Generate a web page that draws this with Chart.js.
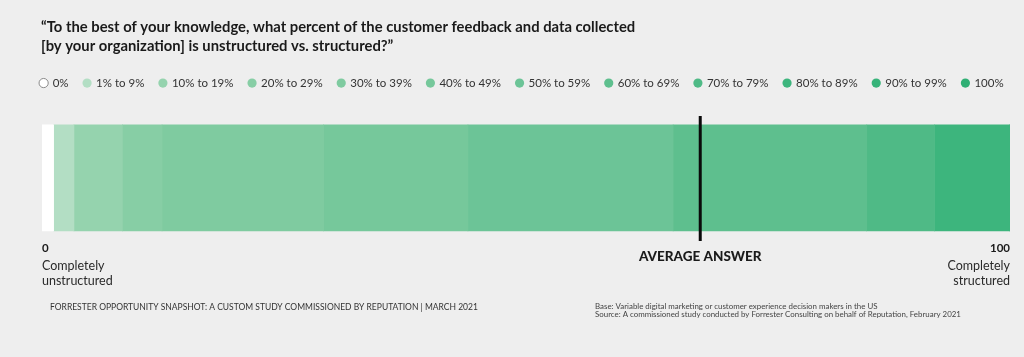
<!DOCTYPE html>
<html>
<head>
<meta charset="utf-8">
<script src="https://cdn.jsdelivr.net/npm/chart.js@4.4.1/dist/chart.umd.min.js"></script>
<style>
  html, body { margin: 0; padding: 0; background: #eeeeee; }
  #wrap { width: 1024px; height: 357px; position: relative; }
</style>
</head>
<body>
<div id="wrap"><canvas id="c" width="1024" height="357"></canvas></div>
<script>
const titleLines = [
  '\u201CTo the best of your knowledge, what percent of the customer feedback and data collected',
  '[by your organization] is unstructured vs. structured?\u201D'
];
const categories = ['0%', '1% to 9%', '10% to 19%', '20% to 29%', '30% to 39%', '40% to 49%',
  '50% to 59%', '60% to 69%', '70% to 79%', '80% to 89%', '90% to 99%', '100%'];
const shares = [1.2, 2.1, 5.0, 4.1, 16.7, 14.9, 21.2, 20.0, 7.0, 7.8, 0, 0];
const colors = ['#ffffff', '#b3dec4', '#95d3ae', '#87cea5', '#7fcba0', '#76c89b',
  '#6cc497', '#5ebf8e', '#4fba86', '#3db57d', '#37b379', '#2faf74'];
const averageAnswer = 68;
const axisMin = 0;
const axisMax = 100;
const leftLabel = ['0', 'Completely', 'unstructured'];
const rightLabel = ['100', 'Completely', 'structured'];
const averageLabel = 'AVERAGE ANSWER';
const footLeft = 'FORRESTER OPPORTUNITY SNAPSHOT: A CUSTOM STUDY COMMISSIONED BY REPUTATION | MARCH 2021';
const footRight = [
  'Base: Variable digital marketing or customer experience decision makers in the US',
  'Source: A commissioned study conducted by Forrester Consulting on behalf of Reputation, February 2021'
];

const FONT = 'Lato, "Open Sans", sans-serif';

const bg = {
  id: 'bg',
  beforeDraw(chart) {
    const ctx = chart.ctx;
    ctx.save();
    ctx.fillStyle = '#eeeeee';
    ctx.fillRect(0, 0, chart.width, chart.height);
    ctx.restore();
  }
};

const extras = {
  id: 'extras',
  afterDraw(chart) {
    const ctx = chart.ctx;
    const xs = chart.scales.x;
    const x0 = xs.getPixelForValue(axisMin);
    const x1 = xs.getPixelForValue(axisMax);
    const xa = xs.getPixelForValue(averageAnswer);
    ctx.save();
    ctx.textBaseline = 'middle';

    // title
    ctx.font = 'bold 14.8px ' + FONT;
    ctx.fillStyle = '#1a1a1a';
    ctx.textAlign = 'left';
    ctx.fillText(titleLines[0], 41, 27);
    ctx.fillText(titleLines[1], 41, 46);

    // average line
    ctx.strokeStyle = '#0a0a0a';
    ctx.lineWidth = 3;
    ctx.beginPath();
    ctx.moveTo(xa, 116);
    ctx.lineTo(xa, 241);
    ctx.stroke();

    // end labels
    ctx.fillStyle = '#1a1a1a';
    ctx.font = 'bold 11.5px ' + FONT;
    ctx.textAlign = 'left';
    ctx.fillText(leftLabel[0], x0, 248);
    ctx.textAlign = 'right';
    ctx.fillText(rightLabel[0], x1, 248);
    ctx.font = '12.5px ' + FONT;
    ctx.fillStyle = '#2a2a2a';
    ctx.textAlign = 'left';
    ctx.fillText(leftLabel[1], x0, 266);
    ctx.fillText(leftLabel[2], x0, 281);
    ctx.textAlign = 'right';
    ctx.fillText(rightLabel[1], x1, 266);
    ctx.fillText(rightLabel[2], x1, 281);

    // average label
    ctx.font = '900 13.5px ' + FONT;
    ctx.fillStyle = '#1a1a1a';
    ctx.textAlign = 'center';
    ctx.fillText(averageLabel, xa, 256.5);

    // footers
    ctx.font = '8.5px ' + FONT;
    ctx.fillStyle = '#333333';
    ctx.textAlign = 'left';
    ctx.fillText(footLeft, 50, 307);
    ctx.font = '7.9px ' + FONT;
    ctx.fillStyle = '#444444';
    ctx.fillText(footRight[0], 595, 306.5);
    ctx.fillText(footRight[1], 595, 314.5);
    ctx.restore();
  }
};

const datasets = categories.map((cat, i) => ({
  label: cat,
  data: [shares[i]],
  backgroundColor: colors[i],
  borderWidth: 0,
  barThickness: 106
}));

const hiddenAxis = (pos, w) => ({
  display: true,
  position: pos,
  stacked: true,
  grid: { display: false },
  border: { display: false },
  ticks: { display: false },
  afterFit(scale) { scale.width = w; }
});

new Chart(document.getElementById('c'), {
  type: 'bar',
  data: { labels: [''], datasets },
  plugins: [bg, extras],
  options: {
    responsive: false,
    animation: false,
    indexAxis: 'y',
    layout: { padding: { left: 20, right: 0, top: 62, bottom: 100 } },
    scales: {
      x: { stacked: true, min: axisMin, max: axisMax, display: false },
      y: hiddenAxis('left', 22),
      yRight: Object.assign(hiddenAxis('right', 14), { type: 'linear', min: 0, max: 1, stacked: false })
    },
    plugins: {
      tooltip: { enabled: false },
      title: { display: false },
      legend: {
        display: true,
        position: 'top',
        labels: {
          usePointStyle: true,
          pointStyle: 'circle',
          boxWidth: 6.5,
          boxHeight: 6.5,
          padding: 15.3,
          color: '#333333',
          font: { family: FONT, size: 11.5 },
          generateLabels(chart) {
            const items = Chart.defaults.plugins.legend.labels.generateLabels(chart);
            items.forEach((it, i) => {
              it.fillStyle = colors[i];
              it.strokeStyle = i === 0 ? '#8a8a8a' : colors[i];
              it.lineWidth = i === 0 ? 1 : 0;
              it.pointStyle = 'circle';
            });
            return items;
          }
        }
      }
    }
  }
});
</script>
</body>
</html>
